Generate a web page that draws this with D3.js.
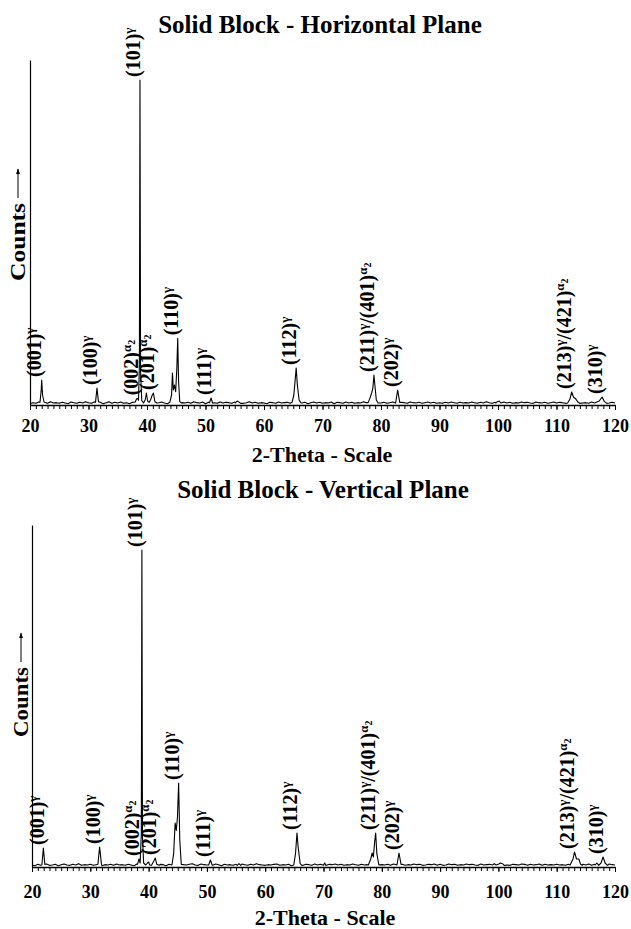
<!DOCTYPE html>
<html>
<head>
<meta charset="utf-8">
<script src="https://cdn.jsdelivr.net/npm/d3@7"></script>
<style>
  body { margin: 0; background: #fff; }
  text { font-family: "Liberation Serif", "Times New Roman", serif; font-weight: bold; fill: #000; }
  .tick text { font-size: 18px; }
  .tick line, .domain { stroke: #000; }
  .title { font-size: 25px; }
  .axis-title { font-size: 22px; }
  .peak-label { font-size: 20px; }
  .scan { fill: none; stroke: #000; stroke-width: 1.1; stroke-linejoin: round; }
</style>
</head>
<body>
<svg id="chart" width="631" height="929"></svg>
<script>
// XRD scans, 2-theta in degrees, counts in arbitrary units
var scanStart = 20, scanStep = 0.5;
var thetaTicks = [20, 30, 40, 50, 60, 70, 80, 90, 100, 110, 120];

// baseline counts, one value per 0.5 deg from 20 to 120
var horizontalNoise = [
  4,7,5,9,6,8,5,10,6,7, 5,8,6,4,9,7,5,8,6,10, 7,5,9,6,8,4,7,10,5,8,
  6,9,5,7,4,8,6,9,7,5, 8,6,10,5,7,9,6,4,8,7, 5,9,7,6,8,5,10,7,6,9,
  4,8,6,7,5,9,6,8,7,5, 9,6,8,5,7,10,6,8,5,7, 6,4,8,7,5,9,6,7,8,5,
  7,9,5,6,8,4,7,9,6,8, 5,7,6,9,4,8,7,5,9,6, 8,5,7,6,10,7,5,8,6,9,
  6,8,5,7,9,6,4,8,7,5, 9,7,6,8,5,7,9,6,8,5, 7,5,8,6,9,7,5,8,6,7,
  6,9,7,5,8,6,10,7,5,8, 5,7,9,6,8,5,7,6,9,7, 8,6,5,9,7,6,8,5,7,9,
  6,8,7,5,9,6,7,8,5,6, 7,5,9,6,8,7,5,9,6,8, 6
];
var verticalNoise = [
  6,4,8,5,7,9,5,6,8,4, 7,9,6,5,8,6,10,5,7,6, 8,5,7,9,4,7,6,8,5,9,
  6,7,5,8,6,4,9,7,5,8, 7,6,9,5,8,7,4,8,6,7, 9,5,7,6,8,10,6,5,9,7,
  6,8,5,9,7,4,8,6,7,5, 8,6,9,7,5,8,6,10,7,6, 5,7,6,8,9,5,7,6,8,4,
  7,9,6,5,8,7,5,9,6,8, 6,5,8,7,9,6,8,5,7,6, 9,7,5,8,6,7,9,5,8,6,
  7,6,8,5,9,7,6,8,5,7, 6,9,7,8,5,6,8,7,9,5, 8,5,6,9,7,8,5,7,6,9,
  7,8,6,5,9,6,7,8,5,7, 6,7,9,6,5,8,7,6,9,8, 5,8,6,7,9,5,8,6,7,6,
  8,6,7,5,8,9,6,7,5,8, 6,9,5,8,7,6,8,5,9,7, 6
];

// peak profiles [2-theta, counts]
var horizontalPeaks = [
  [[21.7,8],[21.9,40],[22.0,75],[22.15,30],[22.4,9]],
  [[31.2,8],[31.45,51],[31.7,10]],
  [[38.0,9],[38.2,18],[38.35,20],[38.55,14],[38.7,120],[38.8,975],[38.9,100],[39.1,14],[39.4,6],
   [39.7,16],[39.9,36],[40.1,12],[40.35,8],[40.6,15],[40.9,30],[41.1,36],[41.35,10],[41.7,6]],
  [[43.9,8],[44.2,30],[44.35,96],[44.5,45],[44.7,60],[44.9,40],[45.1,110],[45.25,200],[45.4,70],[45.6,10],[45.9,6]],
  [[50.7,7],[50.95,21],[51.2,6]],
  [[55.1,6],[55.4,12],[55.7,9],[56.0,5]],
  [[64.8,8],[65.1,30],[65.35,80],[65.5,111],[65.7,60],[66.0,15],[66.3,7]],
  [[77.8,7],[78.1,20],[78.4,36],[78.6,50],[78.8,90],[78.95,60],[79.2,15],[79.5,6]],
  [[82.5,6],[82.85,45],[83.2,8]],
  [[99.6,6],[99.9,10],[100.2,12],[100.5,6]],
  [[111.9,6],[112.3,18],[112.6,39],[112.9,24],[113.3,18],[113.7,8],[114.0,5]],
  [[116.5,6],[117.3,12],[117.8,24],[118.2,10],[118.6,5]]
];
var verticalPeaks = [
  [[21.7,6],[21.95,57],[22.2,8]],
  [[31.3,8],[31.6,60],[31.9,10]],
  [[38.1,8],[38.35,24],[38.55,12],[38.75,100],[38.85,951],[38.95,90],[39.15,12],[39.5,6],
   [39.8,12],[40.0,15],[40.2,6],[40.5,5],[40.9,18],[41.15,27],[41.4,8],[41.8,5]],
  [[44.0,6],[44.3,40],[44.55,132],[44.75,110],[44.95,150],[45.15,252],[45.35,80],[45.6,8]],
  [[50.3,6],[50.6,21],[50.9,6]],
  [[55.2,5],[55.5,10],[55.8,5]],
  [[64.9,6],[65.2,40],[65.45,102],[65.65,60],[66.0,10],[66.3,5]],
  [[70.0,5],[70.2,12],[70.4,5]],
  [[77.7,6],[78.1,24],[78.35,42],[78.55,30],[78.8,80],[78.95,102],[79.15,40],[79.5,6]],
  [[82.6,6],[82.95,42],[83.3,8]],
  [[99.0,6],[99.3,10],[99.6,6],[100.0,8],[100.3,12],[100.7,10],[101.0,5]],
  [[112.3,6],[112.8,24],[113.05,45],[113.4,24],[113.8,24],[114.1,8],[114.4,5]],
  [[116.6,6],[116.9,12],[117.2,5],[117.6,12],[117.95,30],[118.3,12],[118.7,5]]
];

// reflection labels: [text, superscript] parts
var horizontalLabels = [
  {theta: 21.9,  parts: [["(001)", "γ"]]},
  {theta: 31.45, parts: [["(100)", "γ"]]},
  {theta: 38.4,  parts: [["(002)", "α2"]]},
  {theta: 41.2,  parts: [["(201)", "α2"]]},
  {theta: 38.8,  parts: [["(101)", "γ"]]},
  {theta: 45.25, parts: [["(110)", "γ"]]},
  {theta: 50.95, parts: [["(111)", "γ"]]},
  {theta: 65.5,  parts: [["(112)", "γ"]]},
  {theta: 78.75, parts: [["(211)", "γ"], ["/(401)", "α2"]]},
  {theta: 82.85, parts: [["(202)", "γ"]]},
  {theta: 112.5, parts: [["(213)", "γ"], ["/(421)", "α2"]]},
  {theta: 117.8, parts: [["(310)", "γ"]]}
];
var verticalLabels = [
  {theta: 22.1,  parts: [["(001)", "γ"]]},
  {theta: 31.6,  parts: [["(100)", "γ"]]},
  {theta: 38.4,  parts: [["(002)", "α2"]]},
  {theta: 41.3,  parts: [["(201)", "α2"]]},
  {theta: 38.85, parts: [["(101)", "γ"]]},
  {theta: 45.15, parts: [["(110)", "γ"]]},
  {theta: 50.6,  parts: [["(111)", "γ"]]},
  {theta: 65.45, parts: [["(112)", "γ"]]},
  {theta: 78.8,  parts: [["(211)", "γ"], ["/(401)", "α2"]]},
  {theta: 82.95, parts: [["(202)", "γ"]]},
  {theta: 113.05, parts: [["(213)", "γ"], ["/(421)", "α2"]]},
  {theta: 117.95, parts: [["(310)", "γ"]]}
];

var svg = d3.select("#chart");

svg.append("defs").append("marker")
    .attr("id", "arrow")
    .attr("viewBox", "0 0 10 10")
    .attr("refX", 9).attr("refY", 5)
    .attr("markerWidth", 6).attr("markerHeight", 6)
    .attr("orient", "auto")
  .append("path")
    .attr("d", "M0,1.5L10,5L0,8.5Z")
    .attr("fill", "#000");

function buildScan(noise, peaks) {
  var points = noise.map(function(c, i) { return [scanStart + i * scanStep, c]; });
  points = points.filter(function(p) {
    return !peaks.some(function(pk) { return p[0] >= pk[0][0] && p[0] <= pk[pk.length - 1][0]; });
  });
  peaks.forEach(function(pk) { points = points.concat(pk); });
  return points.sort(function(a, b) { return a[0] - b[0]; });
}

function peakTop(scan, theta) {
  var near = scan.filter(function(p) { return Math.abs(p[0] - theta) <= 0.2; });
  return d3.max(near, function(p) { return p[1]; });
}

function drawLabel(g, label, x, y) {
  var t = g.append("text")
      .attr("class", "peak-label")
      .attr("transform", "translate(" + x + "," + y + ") rotate(-90)")
      .attr("dy", "0.34em");
  var shift = 0;
  label.parts.forEach(function(part) {
    t.append("tspan").attr("dy", shift).text(part[0]);
    if (part[1] === "γ") {
      t.append("tspan").attr("dy", -7).attr("font-size", 13).text("γ");
      shift = 7;
    } else {
      t.append("tspan").attr("dy", -7).attr("font-size", 13).text("α");
      t.append("tspan").attr("dy", 4).attr("font-size", 10).text("2");
      shift = 3;
    }
  });
}

function panel(opts) {
  var g = svg.append("g");
  var x = d3.scaleLinear().domain([20, 120]).range([opts.left, opts.right]);
  var y = d3.scaleLinear().domain([0, opts.maxCounts]).range([opts.bottom, opts.top]);
  var scan = buildScan(opts.noise, opts.peaks);

  g.append("text")
      .attr("class", "title")
      .attr("x", opts.titleX).attr("y", opts.titleY)
      .attr("text-anchor", "middle")
      .text(opts.title);

  // minor ticks every degree
  g.append("g")
      .attr("transform", "translate(0," + opts.bottom + ")")
      .call(d3.axisBottom(x).tickValues(d3.range(20, 121, 1)).tickSize(4).tickSizeOuter(0).tickFormat(""))
      .call(function(a) { a.select(".domain").remove(); });

  var xAxis = g.append("g")
      .attr("transform", "translate(0," + opts.bottom + ")")
      .call(d3.axisBottom(x).tickValues(thetaTicks).tickSize(5).tickSizeOuter(0).tickPadding(opts.tickPad));
  xAxis.attr("font-family", null).attr("font-size", null);
  xAxis.select(".domain").attr("stroke-width", 1.4);

  g.append("g")
      .attr("transform", "translate(" + opts.left + ",0)")
      .call(d3.axisLeft(y).tickValues([]).tickSizeOuter(0))
      .select(".domain").attr("stroke-width", 1.2);

  g.append("path")
      .datum(scan)
      .attr("class", "scan")
      .attr("d", d3.line().x(function(d) { return x(d[0]); }).y(function(d) { return y(d[1]); }));

  opts.labels.forEach(function(lbl) {
    drawLabel(g, lbl, x(lbl.theta), y(peakTop(scan, lbl.theta)) - 3);
  });

  g.append("text")
      .attr("class", "axis-title")
      .attr("x", opts.axisTitleX).attr("y", opts.axisTitleY)
      .attr("text-anchor", "middle")
      .text("2-Theta - Scale");

  g.append("text")
      .attr("class", "axis-title")
      .attr("transform", "translate(" + opts.countsX + "," + opts.countsY + ") rotate(-90)")
      .attr("textLength", opts.countsLength)
      .attr("lengthAdjust", "spacingAndGlyphs")
      .text("Counts");

  g.append("line")
      .attr("x1", opts.countsX - 7).attr("x2", opts.countsX - 7)
      .attr("y1", opts.countsY - opts.countsLength - 5)
      .attr("y2", opts.countsY - opts.countsLength - 34)
      .attr("stroke", "#000").attr("stroke-width", 1)
      .attr("marker-end", "url(#arrow)");
}

panel({
  title: "Solid Block - Horizontal Plane", titleX: 320, titleY: 33,
  left: 30, right: 615, top: 60, bottom: 405, maxCounts: 1035,
  noise: horizontalNoise, peaks: horizontalPeaks, labels: horizontalLabels,
  tickPad: 9, axisTitleX: 322, axisTitleY: 462,
  countsX: 25, countsY: 281, countsLength: 78
});

panel({
  title: "Solid Block - Vertical Plane", titleX: 323, titleY: 498,
  left: 32, right: 615, top: 525, bottom: 867, maxCounts: 1026,
  noise: verticalNoise, peaks: verticalPeaks, labels: verticalLabels,
  tickPad: 13, axisTitleX: 325, axisTitleY: 925,
  countsX: 28, countsY: 737, countsLength: 70
});
</script>
</body>
</html>
